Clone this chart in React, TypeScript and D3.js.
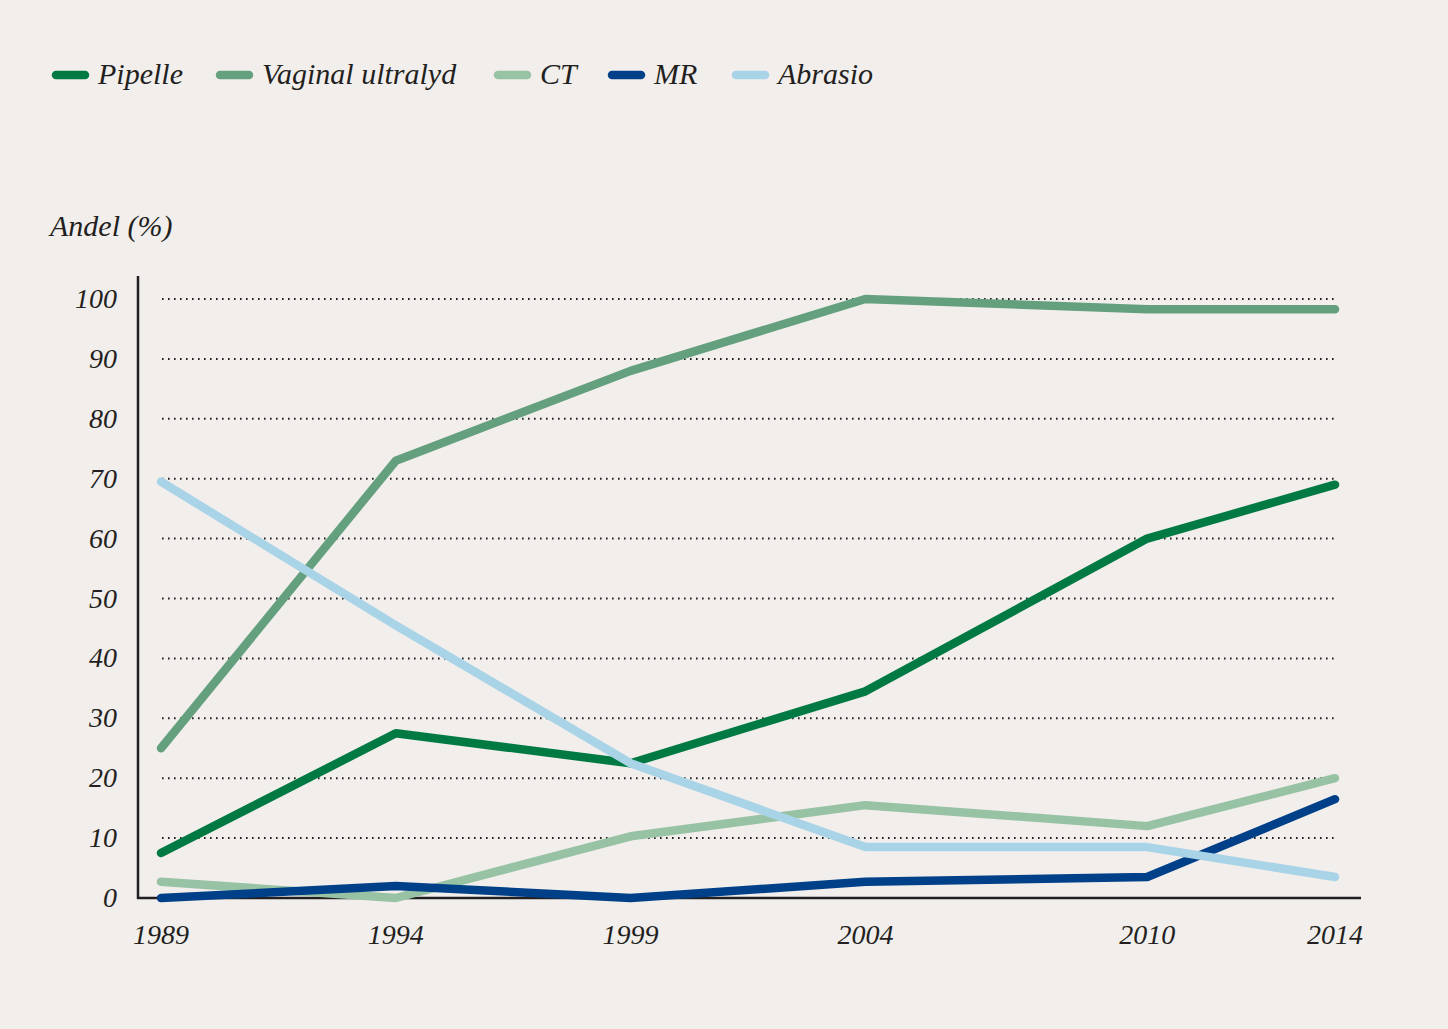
import { useEffect, useRef } from 'react'
import * as d3 from 'd3'

const years = [1989, 1994, 1999, 2004, 2010, 2014]
const seriesNames = ['Pipelle', 'Vaginal ultralyd', 'CT', 'MR', 'Abrasio']
const pipelle = [7.5, 27.5, 22.5, 34.5, 60, 69]
const vaginalUltralyd = [25, 73, 88, 100, 98.3, 98.3]
const ct = [2.7, 0, 10.3, 15.5, 12, 20]
const mr = [0, 2, 0, 2.7, 3.5, 16.5]
const abrasio = [69.5, 45.5, 22.5, 8.5, 8.5, 3.5]
const yTicks = [0, 10, 20, 30, 40, 50, 60, 70, 80, 90, 100]

const colors = ['#007a42', '#64a07e', '#98c2a4', '#004088', '#a9d3e7']
const legendX = [52, 216, 494, 608, 732]

const W = 1448
const H = 1029

export default function App() {
  const svgRef = useRef<SVGSVGElement>(null)

  useEffect(() => {
    if (!svgRef.current) return
    const svg = d3.select(svgRef.current)
    svg.selectAll('*').remove()

    const font = "'Liberation Serif', serif"
    const ink = '#231f20'

    svg.append('rect').attr('width', W).attr('height', H).attr('fill', '#f1eeec')

    const x = d3.scaleLinear().domain([1989, 2014]).range([161, 1335])
    const y = d3.scaleLinear().domain([0, 100]).range([898, 299])

    // grid
    svg
      .append('g')
      .selectAll('line')
      .data(yTicks.filter((t) => t > 0))
      .enter()
      .append('line')
      .attr('x1', 162)
      .attr('x2', 1336)
      .attr('y1', (d) => y(d))
      .attr('y2', (d) => y(d))
      .attr('stroke', ink)
      .attr('stroke-width', 2)
      .attr('stroke-dasharray', '1.6 4.4')

    // axes
    svg.append('line').attr('x1', 138).attr('x2', 138).attr('y1', 276).attr('y2', 899)
      .attr('stroke', ink).attr('stroke-width', 2.5)
    svg.append('line').attr('x1', 137).attr('x2', 1361).attr('y1', y(0)).attr('y2', y(0))
      .attr('stroke', ink).attr('stroke-width', 2.5)

    // y tick labels
    svg
      .append('g')
      .selectAll('text')
      .data(yTicks)
      .enter()
      .append('text')
      .attr('x', 117)
      .attr('y', (d) => y(d) + 9)
      .attr('text-anchor', 'end')
      .style('font-family', font)
      .style('font-style', 'italic')
      .style('font-size', '28px')
      .style('fill', ink)
      .text((d) => String(d))

    // x tick labels
    svg
      .append('g')
      .selectAll('text')
      .data(years)
      .enter()
      .append('text')
      .attr('x', (d) => x(d))
      .attr('y', 944)
      .attr('text-anchor', 'middle')
      .style('font-family', font)
      .style('font-style', 'italic')
      .style('font-size', '28px')
      .style('fill', ink)
      .text((d) => String(d))

    svg
      .append('text')
      .attr('x', 50)
      .attr('y', 236)
      .style('font-family', font)
      .style('font-style', 'italic')
      .style('font-size', '30px')
      .style('fill', ink)
      .text('Andel (%)')

    const allSeries = [pipelle, vaginalUltralyd, ct, mr, abrasio]
    const line = d3
      .line<number>()
      .x((_, i) => x(years[i]))
      .y((d) => y(d))

    // stacking as in the reference: Abrasio sits on top of everything
    const order = [1, 0, 2, 3, 4]
    order.forEach((si) => {
      svg
        .append('path')
        .attr('d', line(allSeries[si]))
        .attr('fill', 'none')
        .attr('stroke', colors[si])
        .attr('stroke-width', 8.5)
        .attr('stroke-linecap', 'round')
        .attr('stroke-linejoin', 'round')
    })

    // legend
    const lg = svg.append('g')
    seriesNames.forEach((name, i) => {
      lg.append('line')
        .attr('x1', legendX[i] + 4)
        .attr('x2', legendX[i] + 33)
        .attr('y1', 75)
        .attr('y2', 75)
        .attr('stroke', colors[i])
        .attr('stroke-width', 8.5)
        .attr('stroke-linecap', 'round')
      lg.append('text')
        .attr('x', legendX[i] + 46)
        .attr('y', 84)
        .style('font-family', font)
        .style('font-style', 'italic')
        .style('font-size', '30px')
        .style('fill', ink)
        .text(name)
    })
  }, [])

  return (
    <div style={{ position: 'absolute', left: 0, top: 0 }}>
      <svg ref={svgRef} width={W} height={H} style={{ display: 'block' }} />
    </div>
  )
}
